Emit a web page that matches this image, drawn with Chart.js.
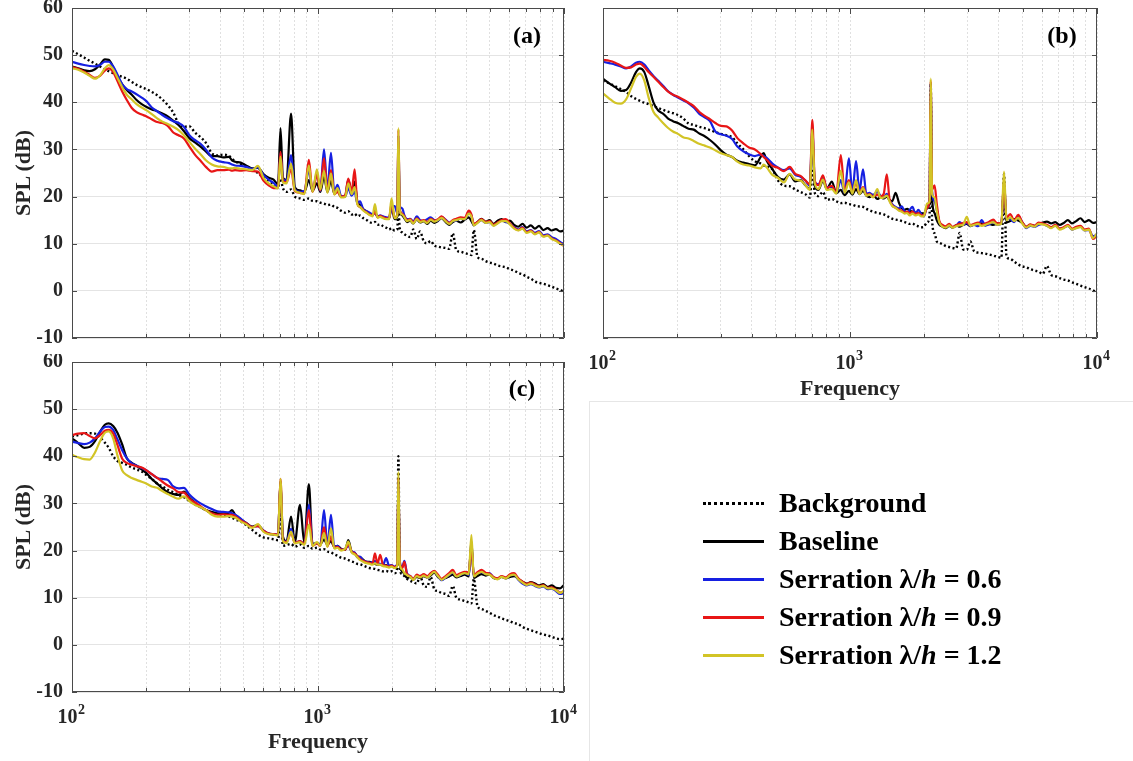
<!DOCTYPE html>
<html>
<head>
<meta charset="utf-8">
<title>SPL spectra</title>
<script src="https://cdn.jsdelivr.net/npm/chart.js@4.4.1/dist/chart.umd.min.js"></script>
<style>
  body { margin: 0; background: #fff; }
  #page { position: relative; width: 1133px; height: 761px; overflow: hidden;
          font-family: 'Liberation Serif', 'Times New Roman', serif; font-weight: bold; }
  canvas { position: absolute; }
  #chartA { left: 0; top: 0; }
  #chartB { left: 580px; top: 0; }
  #chartC { left: 0; top: 354px; }
  .txt { position: absolute; transform: translate(-50%, -50%); white-space: nowrap; }
  .ytitle { font-size: 22px; color: #262626; transform: translate(-50%, -50%) rotate(-90deg); }
  .xtitle { font-size: 22px; color: #262626; }
  .tag { font-size: 24px; color: #000; }
  #legendBox { position: absolute; left: 589px; top: 401px; right: 0; bottom: 0;
               border-left: 1px solid #e6e6e6; border-top: 1px solid #e6e6e6; }
  .row { position: absolute; left: 703px; height: 34px; display: flex; align-items: center;
         font-size: 28px; color: #000; white-space: nowrap; }
  .key { width: 61px; height: 0; margin-right: 15px; }
</style>
</head>
<body>
<div id="page">
  <canvas id="chartA" width="580" height="352"></canvas>
  <canvas id="chartB" width="553" height="380"></canvas>
  <canvas id="chartC" width="580" height="407"></canvas>

  <div class="txt ytitle" style="left:23px; top:173px;">SPL (dB)</div>
  <div class="txt ytitle" style="left:23px; top:527px;">SPL (dB)</div>
  <div class="txt xtitle" style="left:850px; top:388px;">Frequency</div>
  <div class="txt xtitle" style="left:318px; top:741px;">Frequency</div>
  <div class="txt tag" style="left:527px; top:35px;">(a)</div>
  <div class="txt tag" style="left:1062px; top:35px;">(b)</div>
  <div class="txt tag" style="left:522px; top:388px;">(c)</div>

  <div id="legendBox"></div>
  <div id="legend"></div>
</div>

<script>
// frequency grid shared by all spectra (Hz)
const freq = [
  100, 106, 112, 118, 124, 130, 136, 141, 147, 153,
  160, 167, 175, 183, 192, 201, 211, 222, 233, 245,
  258, 271, 285, 300, 316, 333, 350, 370, 390, 412,
  435, 447, 460, 485, 510, 540, 570, 600, 630, 660,
  688, 704, 720, 745, 777, 805, 845, 880, 918, 950,
  990, 1022, 1058, 1092, 1129, 1165, 1200, 1240, 1290, 1328,
  1370, 1409, 1445, 1482, 1530, 1580, 1620, 1665, 1704, 1745,
  1790, 1840, 1892, 1945, 1990, 2050, 2100, 2122, 2150, 2200,
  2245, 2300, 2370, 2440, 2520, 2600, 2690, 2780, 2870, 2970,
  3070, 3180, 3300, 3413, 3530, 3650, 3800, 3950, 4100, 4203,
  4300, 4450, 4620, 4800, 4980, 5170, 5370, 5580, 5800, 6030,
  6270, 6520, 6780, 7050, 7330, 7620, 7920, 8240, 8570, 8910,
  9270, 9640, 10000
];

// (a) SPL in dB
const bgA = [
  50.9, 50.2, 49.5, 48.8, 48.2, 47.6, 47.0, 46.6, 46.2, 45.8,
  45.4, 45.0, 44.3, 43.7, 43.2, 42.8, 42.2, 41.5, 40.6, 39.4,
  37.8, 35.5, 34.8, 34.9, 33.6, 32.6, 31.4, 29.2, 28.7, 28.9,
  28.6, 28.0, 27.5, 26.9, 26.4, 25.7, 25.0, 24.0, 23.4, 22.6,
  22.1, 23.8, 21.8, 21.0, 21.5, 20.0, 19.6, 19.3, 19.6, 19.1,
  19.0, 18.7, 18.5, 18.2, 18.3, 17.8, 17.6, 17.0, 16.6, 16.9,
  16.2, 16.4, 15.8, 16.0, 15.4, 15.0, 14.6, 14.4, 14.6, 14.0,
  14.1, 13.7, 13.4, 13.0, 13.3, 12.8, 13.0, 17.5, 13.2, 12.4,
  12.0, 11.7, 11.4, 13.0, 11.0, 12.6, 10.5, 10.1, 10.6, 9.6,
  9.4, 9.2, 9.1, 8.9, 12.2, 8.6, 8.3, 8.0, 7.8, 7.6,
  12.9, 7.2, 6.8, 6.3, 6.0, 5.8, 5.4, 5.2, 5.0, 4.6,
  4.3, 3.8, 3.5, 3.0, 2.6, 2.0, 1.7, 1.5, 1.2, 0.9,
  0.5, 0.2, -0.2
];
const baseA = [
  47.6, 47.2, 46.8, 46.6, 47.0, 48.0, 49.1, 49.0, 47.5, 45.6,
  43.8, 42.6, 41.6, 40.5, 39.6, 39.0, 38.5, 38.1, 37.6, 37.0,
  36.1, 35.2, 33.9, 32.4, 31.5, 30.6, 29.6, 28.6, 28.6, 28.3,
  28.4, 27.7, 27.4, 27.2, 26.6, 26.0, 26.1, 24.8, 24.0, 23.6,
  22.6, 34.5, 24.0, 23.5, 37.6, 22.0, 21.3, 21.0, 23.5, 21.2,
  22.8, 21.0, 24.2, 21.0, 23.3, 20.6, 21.3, 20.0, 20.2, 23.6,
  20.8, 23.2, 19.0, 18.2, 17.3, 16.8, 16.3, 16.0, 16.9, 15.7,
  15.8, 15.5, 15.3, 15.4, 17.8, 15.2, 15.8, 30.0, 17.3, 16.0,
  15.4, 14.6, 14.9, 14.3, 15.2, 14.5, 14.8, 14.2, 14.9, 14.4,
  14.8, 15.4, 14.6, 14.0, 14.6, 14.9, 14.5, 15.1, 15.6, 14.8,
  13.9, 14.6, 15.3, 14.7, 15.0, 14.2, 14.9, 15.2, 14.6, 14.9,
  14.0, 13.6, 14.2, 13.4, 13.9, 13.2, 13.8, 12.9, 13.3, 12.8,
  13.1, 12.6, 12.8
];
const lam06A = [
  48.6, 48.2, 47.9, 47.7, 47.6, 47.9, 48.6, 48.6, 47.6, 45.9,
  43.8, 42.8, 42.3, 41.7, 41.0, 40.2, 38.9, 38.1, 37.3, 36.6,
  36.0, 35.6, 34.8, 33.0, 32.0, 31.2, 30.0, 28.3, 27.6, 27.3,
  27.1, 26.8, 26.6, 26.5, 26.3, 25.9, 26.2, 24.6, 23.6, 22.9,
  22.0, 29.2, 23.6, 23.4, 28.8, 21.5, 21.0, 21.2, 25.6, 21.3,
  24.9, 21.2, 30.0, 21.5, 29.3, 21.0, 22.5, 20.2, 20.0, 21.8,
  20.2, 21.0, 18.6, 19.0, 17.2, 16.9, 16.6, 16.2, 16.5, 15.8,
  16.0, 15.8, 15.6, 15.5, 17.5, 18.0, 16.5, 33.0, 18.0, 17.5,
  16.0, 15.2, 15.3, 14.7, 15.8, 15.0, 14.8, 15.2, 15.6, 15.0,
  14.9, 15.7, 15.1, 14.5, 14.8, 14.9, 15.5, 15.2, 16.5, 16.0,
  14.0, 14.5, 15.0, 14.4, 14.6, 13.9, 14.4, 14.9, 14.6, 14.2,
  13.5, 13.0, 13.5, 12.6, 12.9, 12.3, 12.7, 11.8, 12.0, 11.4,
  11.0, 10.4, 9.9
];
const lam09A = [
  47.5, 47.1, 46.5, 45.8, 45.2, 45.6, 46.7, 47.2, 46.4, 44.5,
  42.3, 40.5, 38.8, 37.9, 37.4, 37.0, 36.4, 35.8, 35.6, 35.0,
  33.6, 33.0, 32.3, 30.6, 28.9, 27.6, 26.3, 25.3, 25.6, 25.6,
  25.7, 25.5, 25.6, 25.5, 25.6, 25.4, 25.3, 23.4, 22.4, 21.8,
  21.9, 29.5, 23.2, 23.0, 25.8, 21.2, 20.8, 20.6, 27.8, 21.0,
  24.6, 21.3, 28.1, 21.0, 25.6, 20.5, 21.0, 20.0, 20.3, 23.8,
  21.0, 25.8, 18.5, 17.8, 17.1, 16.6, 16.2, 16.0, 16.8, 15.6,
  15.9, 15.6, 15.4, 15.3, 18.5, 15.5, 16.2, 34.2, 17.2, 16.4,
  15.8, 15.0, 15.2, 14.5, 15.4, 14.8, 15.0, 14.6, 15.3, 14.9,
  15.2, 15.8, 15.0, 14.4, 15.0, 15.3, 15.6, 15.5, 17.0, 16.2,
  14.2, 14.6, 15.2, 14.6, 14.8, 14.0, 14.5, 15.0, 15.2, 14.3,
  13.4, 12.9, 13.4, 12.4, 12.8, 12.1, 12.5, 11.6, 11.8, 11.1,
  10.7, 10.1, 9.5
];
const lam12A = [
  47.2, 46.9, 46.3, 45.6, 45.0, 45.7, 47.2, 47.9, 47.0, 45.2,
  43.2, 41.6, 40.6, 39.6, 38.9, 38.3, 37.5, 36.6, 35.9, 35.4,
  34.8, 34.1, 33.0, 31.6, 30.2, 29.0, 27.7, 26.8, 26.4, 26.3,
  26.0, 26.0, 26.1, 25.9, 25.8, 25.6, 26.5, 24.0, 22.8, 22.2,
  21.7, 28.5, 23.0, 22.8, 27.0, 21.3, 20.8, 20.5, 26.6, 21.0,
  25.8, 21.5, 25.4, 20.8, 24.9, 20.4, 21.8, 19.8, 19.9, 22.8,
  20.5, 22.0, 18.4, 17.8, 17.0, 16.5, 16.1, 15.8, 18.4, 15.5,
  15.7, 15.4, 15.2, 15.2, 19.6, 15.4, 16.0, 34.5, 17.0, 16.2,
  15.6, 14.8, 15.0, 14.3, 15.2, 14.6, 14.8, 14.4, 15.1, 14.7,
  15.0, 15.5, 14.8, 14.2, 14.8, 15.0, 15.3, 15.2, 16.4, 15.8,
  13.9, 14.4, 15.0, 14.4, 14.6, 13.8, 14.3, 14.8, 14.8, 14.1,
  13.2, 12.8, 13.2, 12.3, 12.6, 12.0, 12.4, 11.5, 11.7, 11.0,
  10.6, 10.0, 9.6
];

// (b) SPL in dB
const bgB = [
  44.6, 44.0, 43.4, 42.8, 42.2, 41.3, 40.7, 40.3, 39.9, 39.6,
  39.2, 38.8, 38.4, 38.0, 37.7, 37.3, 36.6, 35.5, 35.2, 34.8,
  34.5, 34.1, 33.7, 33.3, 33.0, 32.6, 31.3, 30.0, 28.6, 27.5,
  27.0, 26.6, 26.4, 25.8, 23.5, 22.3, 22.2, 21.5, 21.0, 20.5,
  19.8, 25.9, 20.8, 20.1, 21.0, 19.3, 19.5, 19.0, 18.6, 18.7,
  18.4, 18.3, 18.0, 17.9, 17.8, 17.4, 17.1, 16.8, 16.5, 16.4,
  16.2, 15.9, 15.6, 15.3, 15.1, 15.0, 14.8, 14.6, 14.4, 14.2,
  14.3, 13.9, 13.7, 13.5, 13.6, 14.5, 16.0, 44.0, 15.0, 12.2,
  10.5, 10.2, 9.9, 9.5, 9.3, 9.1, 9.0, 12.3, 8.8, 8.7,
  10.5, 8.4, 8.1, 8.0, 7.9, 7.7, 7.5, 7.2, 7.0, 24.8,
  7.3, 6.8, 6.2, 5.6, 5.2, 5.0, 4.6, 4.3, 4.1, 3.6,
  5.3, 3.4, 3.1, 2.7, 2.4, 2.2, 1.8, 1.5, 1.1, 0.8,
  0.5, 0.1, -0.4
];
const baseB = [
  45.0, 44.0, 43.2, 42.4, 42.6, 44.2, 46.4, 47.2, 46.4, 43.5,
  40.0, 38.3, 37.6, 36.6, 36.0, 35.6, 35.0, 34.4, 34.2, 33.4,
  32.8, 32.0, 31.0, 29.8, 28.9, 28.4, 27.6, 27.2, 26.9, 26.6,
  28.4, 29.2, 27.6, 25.8, 24.2, 23.6, 24.7, 23.2, 23.5, 22.4,
  21.6, 32.8, 22.3, 21.4, 23.4, 21.6, 23.2, 20.7, 21.4, 20.3,
  21.2, 20.4, 21.6, 20.5, 21.2, 20.2, 19.9, 20.4, 19.5, 19.8,
  19.6, 20.0, 19.3, 19.0, 20.8, 18.6, 17.5, 17.2, 17.4, 17.0,
  16.8, 16.6, 16.4, 16.5, 16.4, 17.5, 19.0, 42.0, 19.5, 16.5,
  15.0, 14.0, 13.6, 13.3, 13.8, 13.4, 13.9, 13.6, 14.0, 14.2,
  13.7, 14.1, 13.8, 14.3, 13.9, 14.2, 14.0, 14.3, 14.2, 22.0,
  14.5, 14.8, 15.2, 14.9, 14.4, 13.6, 14.0, 13.8, 14.2, 14.5,
  14.7, 14.3, 14.6, 14.0, 14.4, 15.0, 14.3, 14.8, 15.4, 14.6,
  15.0, 14.4, 14.6
];
const lam06B = [
  48.6, 48.3, 48.0, 47.6, 47.2, 47.6, 48.4, 48.6, 48.0, 46.8,
  45.6, 44.6, 43.5, 42.4, 41.6, 41.0, 40.4, 39.8, 38.9, 37.6,
  36.8, 36.0, 33.8, 33.2, 32.9, 32.2, 30.6, 29.6, 29.0, 28.6,
  28.9, 28.6, 28.2, 27.0, 26.2, 25.6, 26.0, 24.6, 24.2, 23.4,
  22.3, 35.0, 23.0, 22.6, 24.0, 22.0, 22.0, 20.8, 23.5, 20.8,
  28.1, 21.0, 27.5, 21.2, 25.8, 20.6, 20.8, 20.3, 21.0, 20.2,
  19.8, 20.6, 19.2, 18.4, 17.8, 17.5, 17.9, 16.8, 16.6, 17.2,
  17.8, 16.4, 17.2, 16.2, 15.8, 17.8, 20.0, 44.0, 21.0, 19.0,
  17.2, 14.6, 13.8, 13.6, 14.0, 13.5, 13.8, 14.6, 14.0, 14.4,
  13.8, 14.0, 13.7, 15.0, 13.9, 14.1, 14.6, 14.0, 14.3, 23.0,
  15.6, 15.2, 14.6, 15.8, 14.6, 13.3, 13.8, 13.6, 14.0, 14.2,
  13.8, 13.4, 13.9, 13.2, 13.4, 13.8, 13.0, 13.4, 13.6, 12.8,
  12.9, 11.6, 12.0
];
const lam09B = [
  49.0, 48.8, 48.4, 47.8, 47.3, 47.4, 48.0, 48.2, 47.5, 46.4,
  45.4, 44.4, 43.3, 42.3, 41.6, 41.2, 40.6, 39.9, 39.2, 38.0,
  37.1, 36.4, 35.6, 35.0, 34.9, 34.0, 32.4, 31.3, 30.4, 30.0,
  29.0, 28.4, 27.8, 26.5, 26.1, 25.4, 26.3, 24.8, 24.4, 23.4,
  22.6, 36.3, 23.4, 22.4, 24.5, 21.8, 22.3, 20.8, 28.8, 21.2,
  23.5, 20.9, 23.0, 20.7, 22.0, 20.4, 20.5, 20.0, 20.4, 20.0,
  20.6, 24.7, 19.5, 18.2, 17.6, 17.2, 17.0, 16.6, 16.8, 16.4,
  16.8, 16.3, 16.5, 16.0, 16.0, 17.6, 19.5, 44.5, 21.5, 22.4,
  18.5, 14.8, 14.0, 13.7, 14.2, 13.6, 13.9, 14.2, 14.4, 14.6,
  14.0, 14.2, 14.5, 14.0, 14.3, 14.6, 15.1, 14.3, 14.4, 23.5,
  15.4, 16.3, 15.0, 16.1, 14.6, 13.6, 14.1, 13.8, 14.5, 14.3,
  14.0, 13.5, 14.0, 13.2, 13.5, 14.0, 13.2, 13.6, 13.8, 13.0,
  13.2, 11.0, 11.8
];
const lam12B = [
  41.9, 40.8, 39.9, 39.7, 40.6, 43.0, 45.4, 46.1, 44.6, 41.0,
  38.0, 36.8, 35.6, 34.6, 33.8, 33.3, 32.6, 32.3, 31.8, 31.2,
  30.8, 30.4, 29.8, 29.2, 28.8, 28.4, 27.4, 26.8, 26.6, 26.2,
  26.0, 26.8, 26.2, 24.6, 24.0, 23.0, 24.8, 23.6, 23.4, 22.4,
  21.4, 34.2, 22.8, 21.6, 23.6, 21.4, 21.6, 20.6, 25.5, 20.8,
  23.0, 20.6, 23.5, 20.5, 21.8, 20.2, 20.4, 19.8, 21.6, 19.7,
  19.8, 20.2, 19.0, 18.0, 17.6, 17.0, 16.8, 16.4, 16.5, 16.0,
  16.4, 16.0, 16.2, 15.8, 15.8, 18.5, 19.0, 45.0, 20.5, 19.8,
  17.0, 14.5, 13.6, 13.4, 13.9, 13.4, 13.7, 13.9, 14.0, 15.7,
  13.8, 14.0, 14.2, 13.8, 14.0, 14.3, 14.6, 14.0, 14.2, 25.3,
  15.0, 15.6, 14.8, 15.5, 14.3, 13.4, 13.9, 13.6, 14.2, 14.1,
  13.8, 13.3, 13.8, 13.0, 13.3, 13.8, 13.0, 13.3, 13.5, 12.8,
  13.0, 11.2, 12.2
];

// (c) SPL in dB
const bgC = [
  44.2, 44.5, 44.8, 44.9, 44.8, 44.0, 42.9, 41.8, 40.0, 39.0,
  38.6, 38.2, 37.6, 37.2, 36.8, 36.0, 35.2, 34.2, 33.6, 32.9,
  32.4, 31.8, 31.3, 30.5, 29.8, 29.2, 28.6, 28.0, 27.8, 27.5,
  27.2, 27.0, 26.6, 26.2, 25.4, 24.4, 23.4, 22.8, 22.6, 22.4,
  22.2, 28.0, 21.0, 21.2, 21.4, 20.8, 21.3, 20.6, 21.0, 20.4,
  20.6, 20.2, 20.3, 19.8, 19.6, 19.2, 18.9, 18.5, 18.3, 18.0,
  17.7, 17.5, 17.2, 17.1, 16.8, 16.5, 16.3, 16.2, 16.1, 15.9,
  15.8, 15.6, 15.7, 15.5, 15.6, 15.2, 16.5, 40.0, 16.0, 15.0,
  14.6, 14.0, 13.6, 13.3, 13.0, 14.6, 12.6, 12.3, 14.4, 11.8,
  11.4, 11.0, 10.8, 10.4, 12.5, 10.0, 9.6, 9.3, 9.0, 8.8,
  14.0, 8.2, 7.6, 7.2, 6.8, 6.3, 6.0, 5.6, 5.3, 5.0,
  4.6, 4.4, 3.8, 3.4, 3.1, 2.8, 2.5, 2.2, 2.0, 1.7,
  1.4, 1.2, 1.3
];
const baseC = [
  43.8, 42.8, 41.8, 42.0, 43.2, 45.2, 46.7, 47.0, 46.4, 45.0,
  42.5, 39.6, 38.6, 38.0, 37.2, 36.4, 35.2, 34.2, 33.2, 32.4,
  32.0, 31.8, 32.5, 31.2, 30.2, 29.2, 28.6, 28.2, 27.9, 27.8,
  28.0, 28.6, 27.6, 26.6, 25.9, 25.1, 25.4, 24.2, 23.6, 23.4,
  23.3, 34.8, 23.0, 22.0, 27.2, 21.8, 29.7, 21.6, 34.1, 21.4,
  21.6, 21.3, 22.4, 21.2, 22.0, 20.8, 21.0, 20.4, 20.2, 22.2,
  19.8, 19.5, 18.8, 18.6, 18.0, 17.6, 17.6, 17.4, 17.2, 17.0,
  17.1, 16.8, 16.9, 16.6, 16.8, 16.4, 17.0, 35.0, 17.2, 15.6,
  15.0, 14.2, 14.4, 13.8, 14.4, 14.2, 14.6, 14.3, 14.7, 15.3,
  14.4, 13.9, 14.2, 14.5, 14.9, 14.3, 14.6, 14.9, 14.5, 22.0,
  14.2, 14.6, 15.0, 14.7, 14.9, 14.2, 14.0, 14.4, 14.1, 14.4,
  14.6, 14.0, 13.4, 13.0, 13.3, 13.0, 12.6, 12.9, 12.3, 12.6,
  12.1, 12.0, 12.7
];
const lam06C = [
  43.1, 42.8, 42.6, 42.9, 43.8, 45.2, 46.2, 46.3, 45.6, 43.6,
  41.3, 39.6, 38.5, 38.0, 37.5, 37.0, 36.2, 35.4, 35.2, 35.0,
  33.6, 33.2, 33.3, 31.9, 30.8, 30.0, 29.4, 28.8, 28.3, 28.2,
  28.1, 27.9, 27.6, 26.8, 25.8, 25.0, 25.2, 24.3, 23.6, 23.5,
  23.4, 34.5, 22.2, 21.8, 24.6, 21.6, 22.0, 21.4, 29.7, 21.2,
  21.6, 21.2, 28.6, 21.0, 27.6, 20.6, 21.0, 20.2, 20.4, 21.0,
  19.8, 19.6, 18.6, 18.7, 17.8, 17.6, 17.4, 17.5, 17.8, 17.3,
  17.2, 17.0, 18.4, 16.8, 16.9, 16.6, 17.2, 34.5, 17.8, 16.5,
  17.8, 15.2, 14.6, 14.0, 14.7, 14.4, 14.8, 14.5, 15.0, 15.6,
  14.6, 13.7, 14.3, 14.8, 15.4, 14.6, 14.8, 15.3, 14.8, 21.0,
  14.6, 15.2, 15.4, 15.0, 15.2, 14.3, 14.0, 14.5, 14.2, 14.8,
  14.9, 13.8, 13.0, 12.6, 12.9, 12.5, 12.2, 12.4, 11.8, 11.9,
  11.4, 10.8, 11.0
];
const lam09C = [
  44.5, 44.8, 44.9, 44.3, 43.8, 44.5, 45.4, 45.6, 44.8, 42.4,
  39.5, 38.6, 38.2, 37.9, 37.6, 37.0, 36.2, 35.4, 34.6, 33.8,
  33.2, 32.4, 32.3, 31.0, 30.2, 29.4, 28.6, 27.9, 27.6, 27.7,
  27.6, 27.6, 27.3, 26.4, 25.8, 25.0, 25.2, 24.2, 23.6, 23.5,
  23.4, 35.2, 22.0, 21.8, 23.8, 21.6, 22.0, 21.4, 28.6, 21.0,
  21.5, 21.0, 25.0, 20.9, 23.0, 20.6, 20.8, 20.2, 20.2, 21.4,
  19.8, 19.4, 18.8, 18.2, 17.8, 17.5, 17.4, 17.2, 19.4, 17.2,
  19.1, 16.9, 16.8, 16.6, 16.8, 16.5, 17.0, 35.5, 17.5, 16.3,
  17.6, 15.0, 14.6, 14.0, 14.9, 14.6, 15.0, 14.6, 15.2, 15.7,
  14.9, 14.0, 14.6, 15.2, 15.9, 14.8, 15.2, 15.5, 15.4, 21.0,
  14.8, 15.4, 15.9, 15.3, 15.1, 14.4, 14.1, 14.6, 14.3, 15.0,
  15.2, 14.1, 13.4, 12.9, 13.2, 12.8, 12.4, 12.7, 12.1, 12.2,
  11.7, 11.1, 11.4
];
const lam12C = [
  40.3, 39.8, 39.4, 39.3, 40.8, 43.2, 45.0, 45.3, 43.8, 40.2,
  37.0, 36.0, 35.4, 35.0, 34.6, 34.2, 33.6, 33.3, 32.6, 32.0,
  31.4, 31.0, 31.5, 30.5, 29.7, 29.2, 28.6, 27.6, 27.2, 27.2,
  27.3, 27.2, 27.0, 26.2, 25.6, 24.8, 25.6, 24.0, 23.5, 23.4,
  23.2, 35.2, 22.0, 21.6, 24.0, 21.5, 21.8, 21.2, 25.5, 21.0,
  21.8, 21.0, 23.7, 20.8, 24.7, 20.4, 20.6, 20.0, 20.4, 21.9,
  19.6, 19.2, 18.6, 18.0, 17.6, 17.3, 17.2, 17.0, 17.3, 17.0,
  17.0, 16.7, 16.6, 16.4, 16.6, 16.3, 16.8, 36.7, 17.0, 16.0,
  15.2, 14.8, 14.4, 13.8, 14.6, 14.3, 14.7, 14.3, 14.9, 15.5,
  14.6, 13.8, 14.3, 14.9, 15.4, 14.5, 14.9, 15.2, 15.0, 23.3,
  14.5, 15.1, 15.5, 15.0, 14.9, 14.2, 13.9, 14.4, 14.1, 14.7,
  14.9, 13.9, 13.2, 12.7, 13.0, 12.6, 12.3, 12.5, 12.0, 12.0,
  11.6, 11.0, 11.5
];

const seriesLabels = ['Background', 'Baseline', 'Serration λ/<i>h</i> = 0.6',
                      'Serration λ/<i>h</i> = 0.9', 'Serration λ/<i>h</i> = 1.2'];
const seriesColors = ['#000000', '#000000', 'rgb(22, 32, 225)', 'rgb(232, 22, 22)', 'rgb(210, 196, 38)'];
const splTicks = [-10, 0, 10, 20, 30, 40, 50, 60];
const freqTicks = [100, 200, 300, 400, 500, 600, 700, 800, 900,
                   1000, 2000, 3000, 4000, 5000, 6000, 7000, 8000, 9000, 10000];
const decades = [100, 1000, 10000];

const serif = "'Liberation Serif', 'Times New Roman', serif";

// axes box with inward tick marks, like a boxed plot
const boxFrame = {
  id: 'boxFrame',
  afterDatasetsDraw(chart) {
    const {ctx, chartArea: a, scales: {x, y}} = chart;
    ctx.save();
    ctx.strokeStyle = '#4a4a4a';
    ctx.lineWidth = 1;
    ctx.beginPath();
    ctx.rect(a.left + 0.5, a.top + 0.5, a.width - 1, a.height - 1);
    x.ticks.forEach(t => {
      const px = Math.round(x.getPixelForValue(t.value)) + 0.5;
      const len = decades.includes(t.value) ? 6 : 4;
      ctx.moveTo(px, a.bottom); ctx.lineTo(px, a.bottom - len);
      ctx.moveTo(px, a.top); ctx.lineTo(px, a.top + len);
    });
    y.ticks.forEach(t => {
      const py = Math.round(y.getPixelForValue(t.value)) + 0.5;
      ctx.moveTo(a.left, py); ctx.lineTo(a.left + 5, py);
      ctx.moveTo(a.right, py); ctx.lineTo(a.right - 5, py);
    });
    ctx.stroke();
    ctx.restore();
  }
};

// 10^n labels under the frequency axis
const decadeLabels = {
  id: 'decadeLabels',
  afterDraw(chart, args, opts) {
    if (!opts.show) return;
    const {ctx, chartArea: a, scales: {x}} = chart;
    ctx.save();
    ctx.fillStyle = '#262626';
    ctx.textBaseline = 'alphabetic';
    decades.forEach(v => {
      const px = x.getPixelForValue(v);
      const exp = String(Math.round(Math.log10(v)));
      ctx.font = 'bold 20px ' + serif;
      const w1 = ctx.measureText('10').width;
      ctx.font = 'bold 14px ' + serif;
      const w2 = ctx.measureText(exp).width;
      const left = px - (w1 + w2) / 2 - 1;
      ctx.font = 'bold 20px ' + serif;
      ctx.fillText('10', left, a.bottom + 31);
      ctx.font = 'bold 14px ' + serif;
      ctx.fillText(exp, left + w1 + 0.5, a.bottom + 22);
    });
    ctx.restore();
  }
};

function buildDatasets(series) {
  return series.map((vals, i) => ({
    label: seriesLabels[i].replace(/<\/?i>/g, ''),
    data: freq.map((f, k) => ({x: f, y: vals[k]})),
    borderColor: seriesColors[i],
    borderWidth: i === 0 ? 2.4 : 2.2,
    borderDash: i === 0 ? [2, 2.5] : [],
    order: series.length - 1 - i
  }));
}

function makeChart(id, series, opts) {
  return new Chart(document.getElementById(id), {
    type: 'line',
    data: {datasets: buildDatasets(series)},
    options: {
      responsive: false,
      animation: false,
      devicePixelRatio: 1,
      layout: {padding: {top: 8, right: opts.right, left: 0, bottom: 0}},
      elements: {
        point: {radius: 0},
        line: {cubicInterpolationMode: 'monotone', borderJoinStyle: 'round'}
      },
      plugins: {
        legend: {display: false},
        tooltip: {enabled: false},
        decadeLabels: {show: opts.xLabels}
      },
      scales: {
        x: {
          type: 'logarithmic', min: 100, max: 10000,
          afterBuildTicks: s => { s.ticks = freqTicks.map(v => ({value: v})); },
          afterFit: s => { s.height = opts.xHeight; s.paddingLeft = 0; s.paddingRight = 0; },
          ticks: {display: false},
          grid: {color: '#e0e0e0', drawTicks: false},
          border: {display: false, dash: [2, 2]}
        },
        y: {
          min: -10, max: 60,
          afterBuildTicks: s => { s.ticks = splTicks.map(v => ({value: v})); },
          afterFit: s => { s.width = opts.yWidth; s.paddingTop = 0; s.paddingBottom = 0; },
          ticks: {display: opts.yLabels, color: '#262626', padding: 9,
                  font: {family: serif, size: 20, weight: 'bold'}},
          grid: {color: '#e4e4e4', drawTicks: false},
          border: {display: false}
        }
      }
    },
    plugins: [boxFrame, decadeLabels]
  });
}

makeChart('chartA', [bgA, baseA, lam06A, lam09A, lam12A],
          {right: 16, xHeight: 14, yWidth: 72, yLabels: true, xLabels: false});
makeChart('chartB', [bgB, baseB, lam06B, lam09B, lam12B],
          {right: 36, xHeight: 42, yWidth: 23, yLabels: false, xLabels: true});
makeChart('chartC', [bgC, baseC, lam06C, lam09C, lam12C],
          {right: 16, xHeight: 69, yWidth: 72, yLabels: true, xLabels: true});

// legend block
const legend = document.getElementById('legend');
seriesLabels.forEach((text, i) => {
  const row = document.createElement('div');
  row.className = 'row';
  row.style.top = (503 + i * 38 - 17) + 'px';
  const key = document.createElement('div');
  key.className = 'key';
  key.style.borderTop = '3px ' + (i === 0 ? 'dotted ' : 'solid ') + seriesColors[i];
  const label = document.createElement('span');
  label.innerHTML = text;
  row.appendChild(key);
  row.appendChild(label);
  legend.appendChild(row);
});
</script>
</body>
</html>
